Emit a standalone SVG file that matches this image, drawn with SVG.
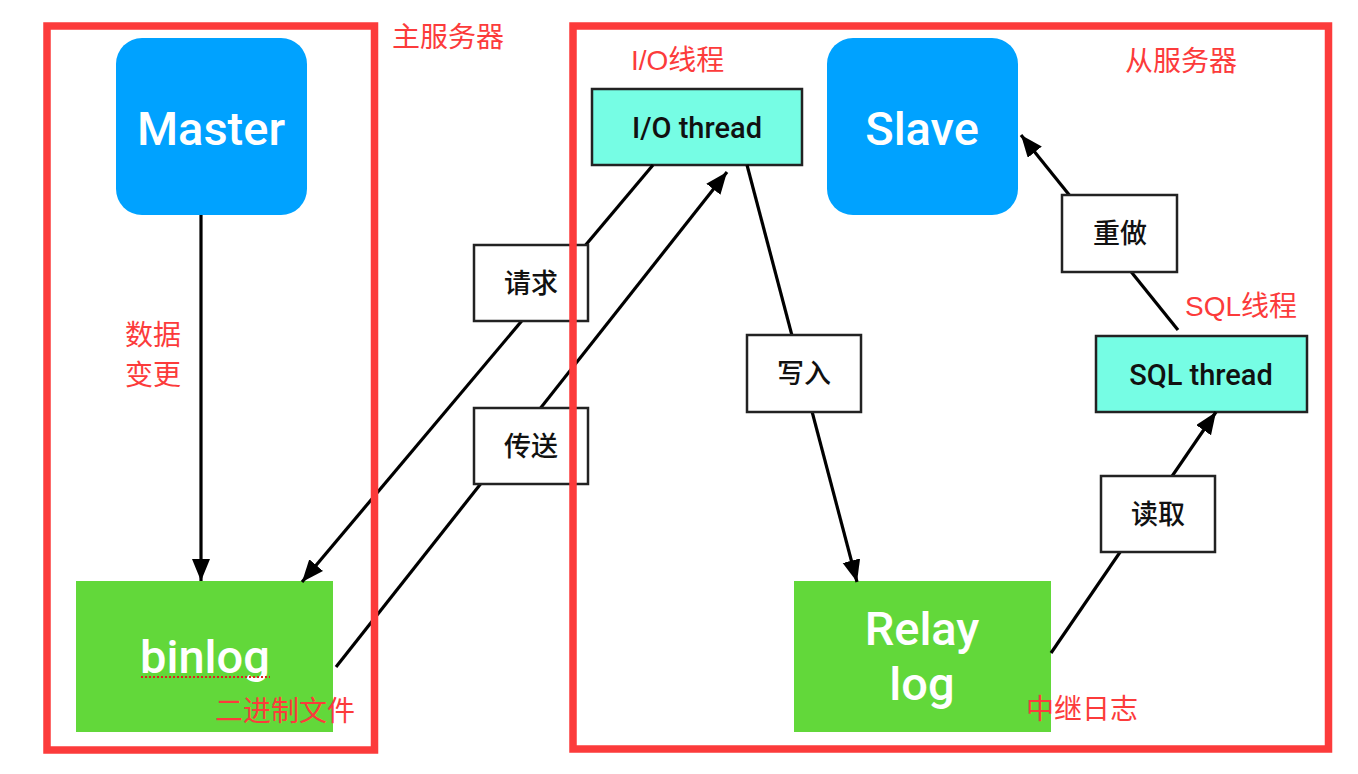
<svg xmlns="http://www.w3.org/2000/svg" width="1358" height="774" viewBox="0 0 1358 774">
<defs>
<style>
.bg{fill:#ffffff}
.blue{fill:#00A2FF}
.green{fill:#62D83A}
.cyan{fill:#76FDE4;stroke:#222;stroke-width:2.5}
.lbl{fill:#ffffff;stroke:#222;stroke-width:2.5}
.big{font-family:Roboto,"Liberation Sans",Arial,sans-serif;font-weight:500;fill:#ffffff;font-size:47px;text-anchor:middle}
.thr{font-family:Roboto,"Liberation Sans",Arial,sans-serif;font-weight:500;fill:#111;font-size:29px;text-anchor:middle}
.cn{font-family:"Noto Sans CJK SC","Noto Sans",sans-serif;font-weight:500;fill:#111;font-size:27px;text-anchor:middle}
.red{font-family:"Liberation Sans","Noto Sans CJK SC",sans-serif;fill:#FC3B3B;font-size:28px}
.box{fill:none;stroke:#FC3B3B;stroke-width:7.5}
.edge{stroke:#000;stroke-width:3.2;fill:none}
</style>
<marker id="arr" markerUnits="userSpaceOnUse" markerWidth="24" markerHeight="20" refX="22" refY="9" orient="auto">
<path d="M0,0 L22,9 L0,18 Z" fill="#000"/>
</marker>
</defs>
<rect class="bg" x="0" y="0" width="1358" height="774"/>

<g id="master"><rect class="blue" x="116" y="38" width="191" height="177" rx="26"/><text class="big" x="211" y="145">Master</text></g>
<g id="slave"><rect class="blue" x="827" y="38" width="191" height="177" rx="26"/><text class="big" x="922" y="145">Slave</text></g>
<g id="binlog"><rect class="green" x="76" y="581" width="257" height="151"/><text class="big" x="205" y="673">binlog</text>
<line x1="141" y1="677" x2="270" y2="677" stroke="#E02020" stroke-width="2" stroke-dasharray="2,2"/></g>
<g id="relaylog"><rect class="green" x="794" y="581" width="257" height="151"/><text class="big" x="922" y="645">Relay</text><text class="big" x="922" y="700">log</text></g>
<g id="io-thread"><rect class="cyan" x="592" y="89" width="210" height="76"/><text class="thr" x="697" y="138">I/O thread</text></g>
<g id="sql-thread"><rect class="cyan" x="1096" y="336" width="211" height="76"/><text class="thr" x="1201" y="385">SQL thread</text></g>

<g id="connectors">
<line class="edge" x1="201" y1="215" x2="201" y2="581" marker-end="url(#arr)"/>
<line class="edge" x1="653" y1="165" x2="302" y2="582" marker-end="url(#arr)"/>
<line class="edge" x1="336" y1="667" x2="727" y2="172" marker-end="url(#arr)"/>
<line class="edge" x1="747" y1="165" x2="857" y2="582" marker-end="url(#arr)"/>
<line class="edge" x1="1051" y1="653" x2="1216" y2="412" marker-end="url(#arr)"/>
<line class="edge" x1="1178" y1="330" x2="1021" y2="135" marker-end="url(#arr)"/>
</g>

<g id="label-request"><rect class="lbl" x="474" y="245" width="114" height="76"/><text class="cn" x="531" y="293">请求</text></g>
<g id="label-send"><rect class="lbl" x="474" y="408" width="114" height="76"/><text class="cn" x="531" y="456">传送</text></g>
<g id="label-write"><rect class="lbl" x="747" y="335" width="114" height="77"/><text class="cn" x="804" y="383">写入</text></g>
<g id="label-read"><rect class="lbl" x="1101" y="476" width="114" height="76"/><text class="cn" x="1158" y="524">读取</text></g>
<g id="label-redo"><rect class="lbl" x="1062" y="195" width="115" height="77"/><text class="cn" x="1120" y="243">重做</text></g>

<g id="master-server"><rect class="box" x="47" y="26" width="327.5" height="724"/></g>
<g id="slave-server"><rect class="box" x="573" y="26" width="755.5" height="723"/></g>

<g id="annotations">
<text class="red" x="392" y="47">主服务器</text>
<text class="red" x="1125" y="71" font-size="27">从服务器</text>
<text class="red" x="631" y="70" font-size="29">I/O线程</text>
<text class="red" x="1185" y="316" font-size="26">SQL线程</text>
<text class="red" x="125" y="345">数据</text>
<text class="red" x="125" y="385">变更</text>
<text class="red" x="215" y="721">二进制文件</text>
<text class="red" x="1026" y="719" font-size="26">中继日志</text>
</g>
</svg>
